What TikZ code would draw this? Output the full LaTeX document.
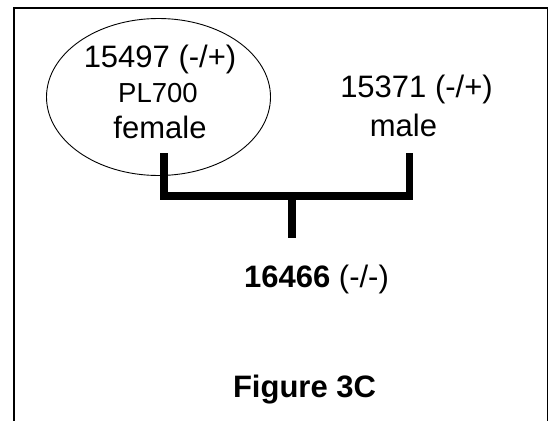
\documentclass[tikz,border=0pt]{standalone}
\usepackage{fontspec}
\setmainfont{Liberation Sans}
\begin{document}
\begin{tikzpicture}[x=1pt,y=-1pt,
  lbl/.style={inner sep=0pt,anchor=base,font=\fontsize{31}{31}\selectfont},
  small/.style={inner sep=0pt,anchor=base,font=\fontsize{27.5}{27.5}\selectfont},
  bar/.style={line width=7.5pt,line cap=butt,line join=miter}]
\useasboundingbox (0,0) rectangle (548,420);
\begin{scope}
\clip (0,0) rectangle (548,420);
\draw[line width=1.3pt] (14,8) rectangle (547.5,440);
\end{scope}
\draw[line width=0.9pt] (158.5,97) ellipse [x radius=112, y radius=78.5];
\node[lbl] (fid) at (160,67) {15497 (-/+)};
\node[small] (fpl) at (158,102) {PL700};
\node[lbl] (fsex) at (160,138) {female};
\node[lbl] (mid) at (416.5,97) {15371 (-/+)};
\node[lbl] (msex) at (403.5,136) {male};
\node[lbl] (child) at (316.5,287) {\textbf{16466} (-/-)};
\node[lbl] (fig) at (304.5,397) {\textbf{Figure 3C}};
\coordinate (ftop) at (164,153);
\coordinate (mtop) at (409.5,153);
\coordinate (mid1) at (292,196);
\coordinate (cbot) at (292,238);
\draw[bar] (ftop) -- (ftop |- mid1) -- (mtop |- mid1) -- (mtop);
\draw[bar] (mid1) -- (cbot);
\end{tikzpicture}
\end{document}
